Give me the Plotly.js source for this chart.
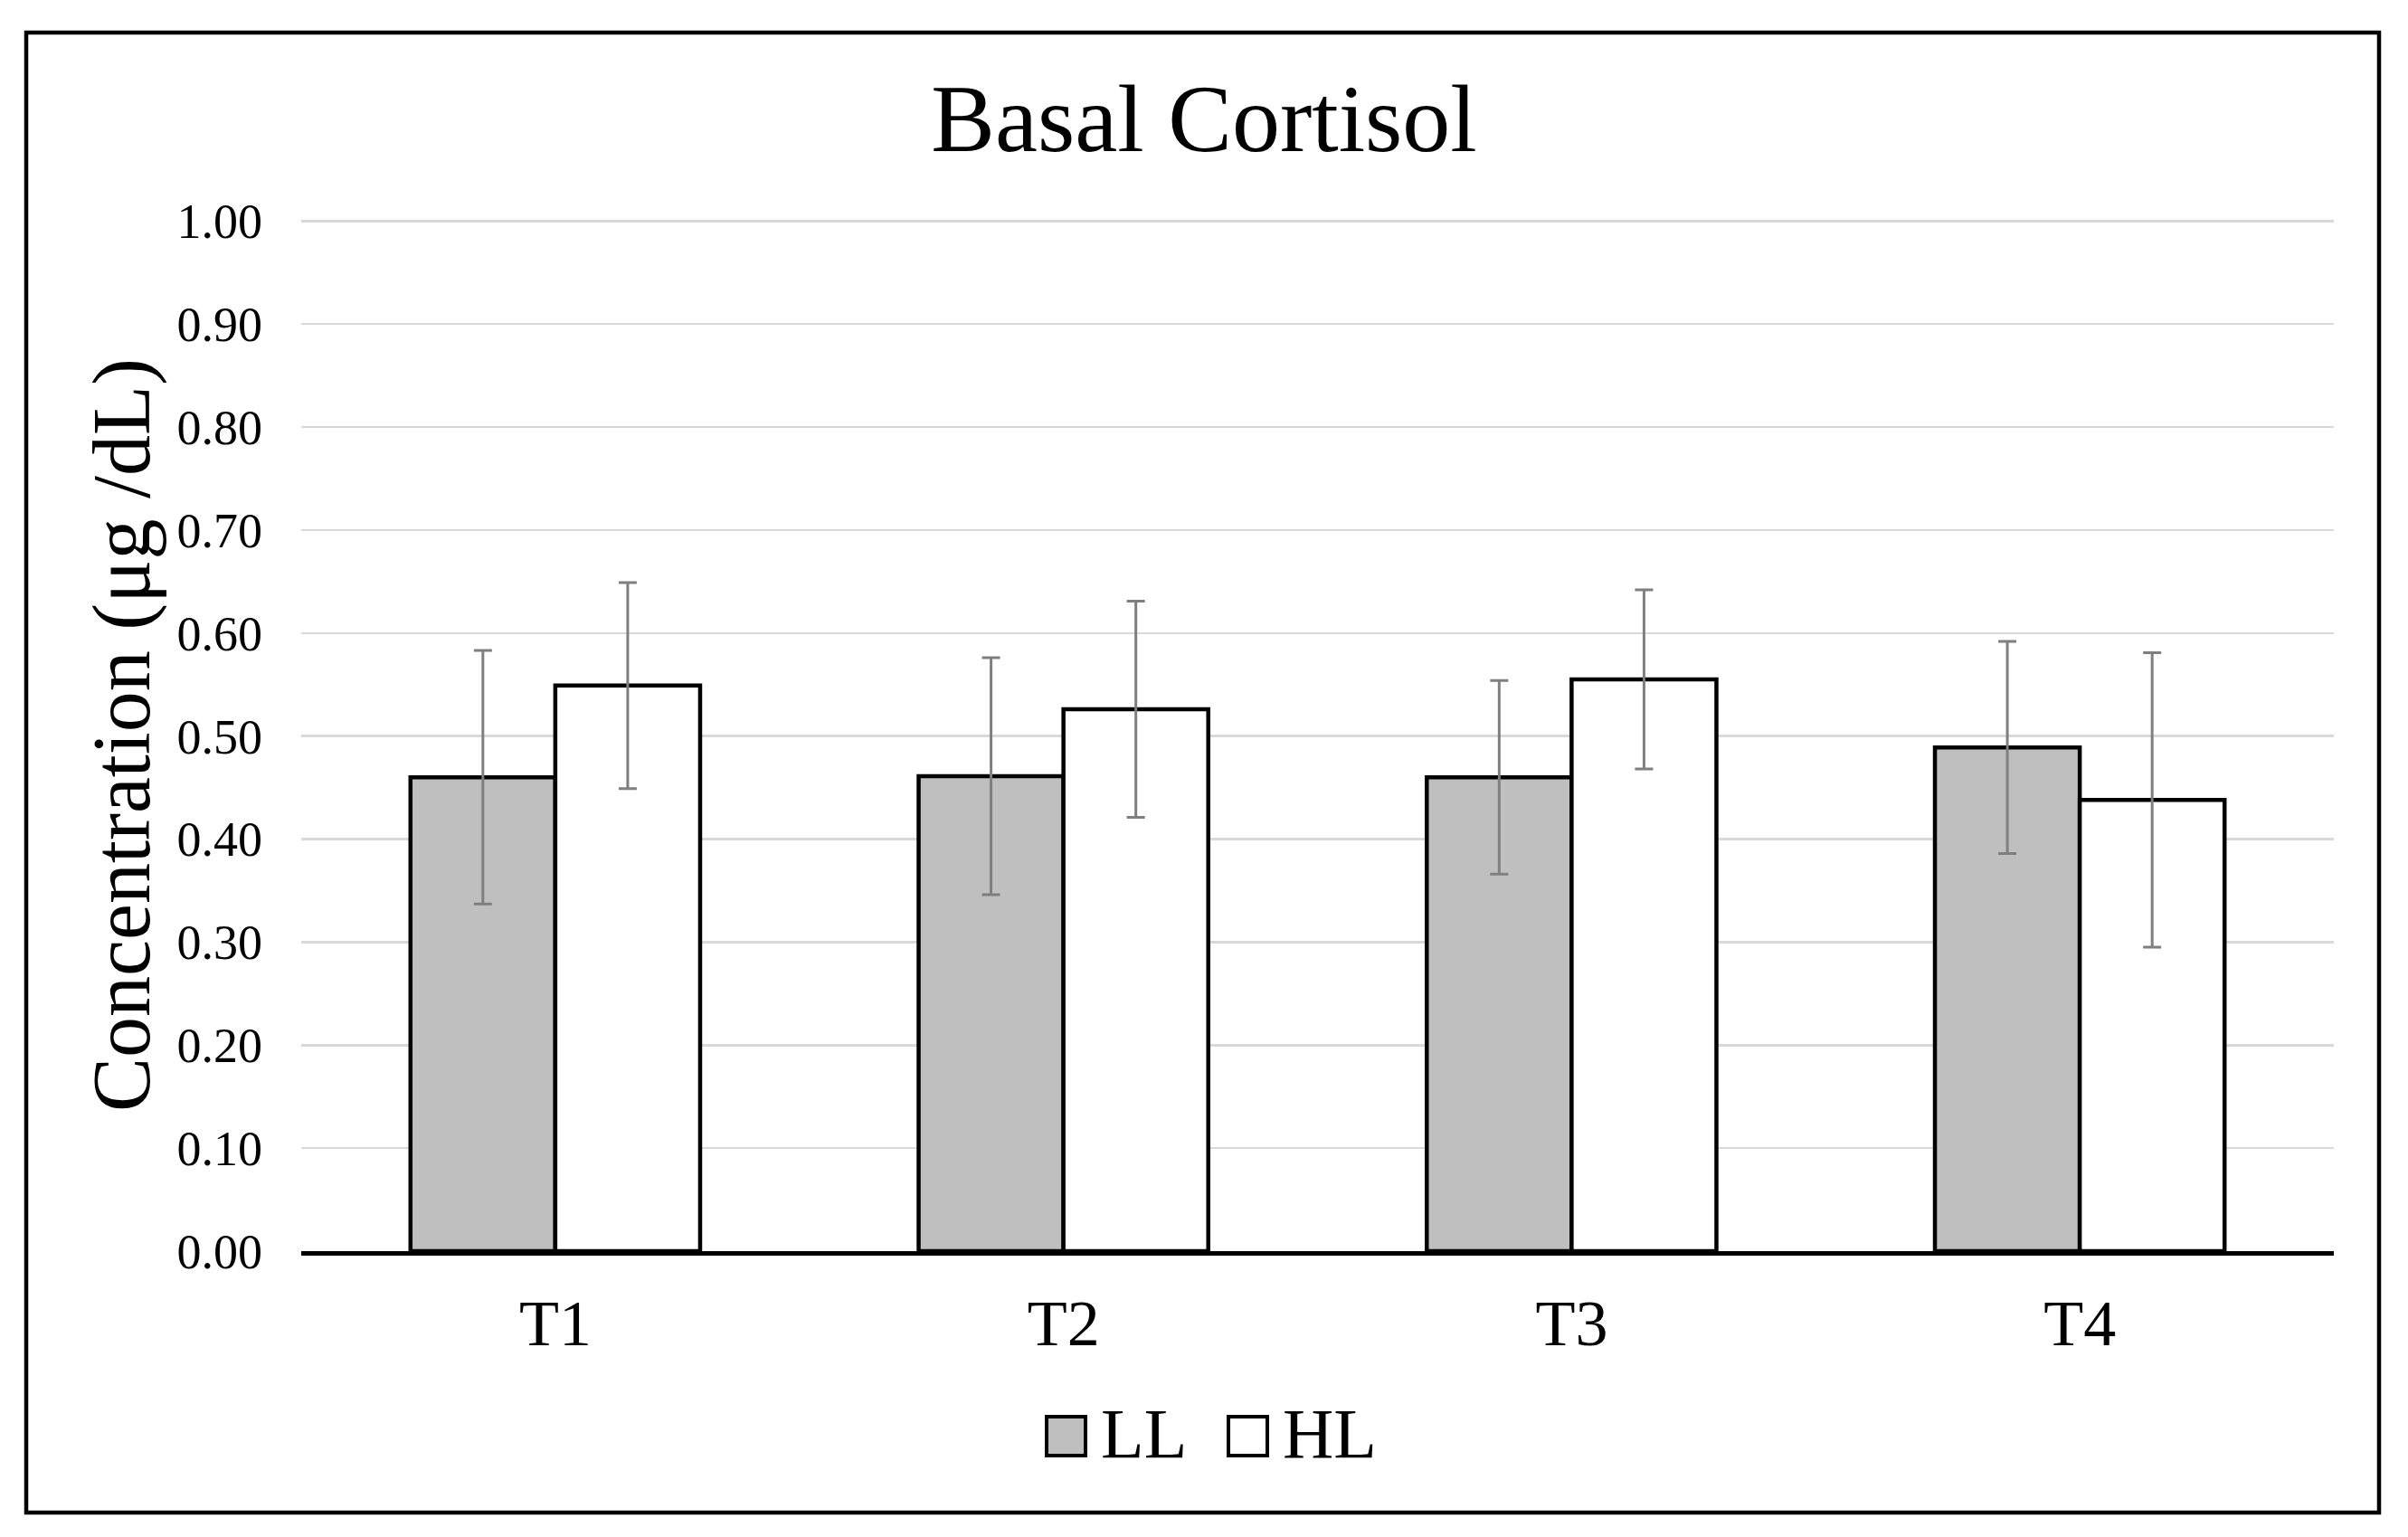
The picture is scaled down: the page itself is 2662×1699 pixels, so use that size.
<!DOCTYPE html>
<html>
<head>
<meta charset="utf-8">
<script src="https://cdn.plot.ly/plotly-3.0.1.min.js"></script>
<style>
  html, body { margin: 0; padding: 0; background: #ffffff; }
  #chart { width: 2662px; height: 1699px; }
</style>
</head>
<body>
<div id="chart"></div>
<script>
// ---- data ----
const categories = ['T1', 'T2', 'T3', 'T4'];
const seriesNames = ['LL', 'HL'];
const llMean = [0.460, 0.461, 0.460, 0.489];
const llErr  = [0.123, 0.115, 0.094, 0.103];
const hlMean = [0.549, 0.526, 0.555, 0.438];
const hlErr  = [0.100, 0.105, 0.087, 0.143];
const chartTitle = 'Basal Cortisol';
const yTitle = 'Concentration (μg /dL)';

// ---- layout constants ----
const W = 2662, H = 1699;
const M = { l: 333, r: 82, t: 242, b: 316 };
const PW = W - M.l - M.r, PH = H - M.t - M.b;
const px2x = (px) => (px - M.l) / PW;
const px2y = (py) => (H - M.b - py) / PH;
const FONT = 'Liberation Serif, Times New Roman, serif';
const fills = ['#bfbfbf', '#ffffff'];

const errStyle = { type: 'data', visible: true, color: '#7f7f7f', thickness: 3, width: 10 };

const traces = [
  {
    type: 'bar', name: seriesNames[0], x: categories, y: llMean,
    marker: { color: fills[0], line: { color: '#000000', width: 4.5 } },
    error_y: Object.assign({ array: llErr }, errStyle),
    showlegend: false, hoverinfo: 'none'
  },
  {
    type: 'bar', name: seriesNames[1], x: categories, y: hlMean,
    marker: { color: fills[1], line: { color: '#000000', width: 4.5 } },
    error_y: Object.assign({ array: hlErr }, errStyle),
    showlegend: false, hoverinfo: 'none'
  }
];

// manual legend (large swatches like the reference)
const legendItems = [
  { name: seriesNames[0], fill: fills[0], box: [1157, 1200], text: 1215 },
  { name: seriesNames[1], fill: fills[1], box: [1358, 1401], text: 1416 }
];
const legendY = [1566, 1609];
const shapes = [];
const annotations = [];
legendItems.forEach(it => {
  shapes.push({
    type: 'rect', xref: 'paper', yref: 'paper',
    x0: px2x(it.box[0]), x1: px2x(it.box[1]),
    y0: px2y(legendY[1]), y1: px2y(legendY[0]),
    fillcolor: it.fill, line: { color: '#000000', width: 4 }
  });
  annotations.push({
    xref: 'paper', yref: 'paper', x: px2x(it.text), y: px2y(1584),
    xanchor: 'left', yanchor: 'middle', showarrow: false,
    text: it.name, font: { family: FONT, size: 78, color: '#000000' }
  });
});
// outer border
shapes.push({
  type: 'rect', xref: 'paper', yref: 'paper',
  x0: px2x(29), x1: px2x(2630), y0: px2y(1672), y1: px2y(36),
  fillcolor: 'rgba(0,0,0,0)', line: { color: '#000000', width: 4.5 }
});

const layout = {
  width: W, height: H,
  margin: M,
  paper_bgcolor: '#ffffff', plot_bgcolor: '#ffffff',
  font: { family: FONT, color: '#000000' },
  title: {
    text: chartTitle, x: 0.5, xanchor: 'center', xref: 'container',
    y: 1 - 130 / H, yanchor: 'middle', yref: 'container',
    font: { family: FONT, size: 106, color: '#000000' }
  },
  barmode: 'group', bargap: 0.43, bargroupgap: 0,
  showlegend: false,
  xaxis: {
    type: 'category', showgrid: false, zeroline: false,
    showline: true, linecolor: '#000000', linewidth: 5,
    ticks: '', ticklabelstandoff: 13,
    tickfont: { family: FONT, size: 72, color: '#000000' }
  },
  yaxis: {
    range: [0, 1.002], dtick: 0.1, tick0: 0, tickformat: '.2f',
    showgrid: true, gridcolor: '#d9d9d9', gridwidth: 2.5,
    zeroline: false, showline: false, ticks: '', ticklabelstandoff: 42,
    tickfont: { family: FONT, size: 54, color: '#000000' },
    title: { text: yTitle, standoff: 0, font: { family: FONT, size: 90, color: '#000000' } }
  },
  shapes: shapes,
  annotations: annotations
};

Plotly.newPlot('chart', traces, layout, { displayModeBar: false, staticPlot: true });
</script>
</body>
</html>
